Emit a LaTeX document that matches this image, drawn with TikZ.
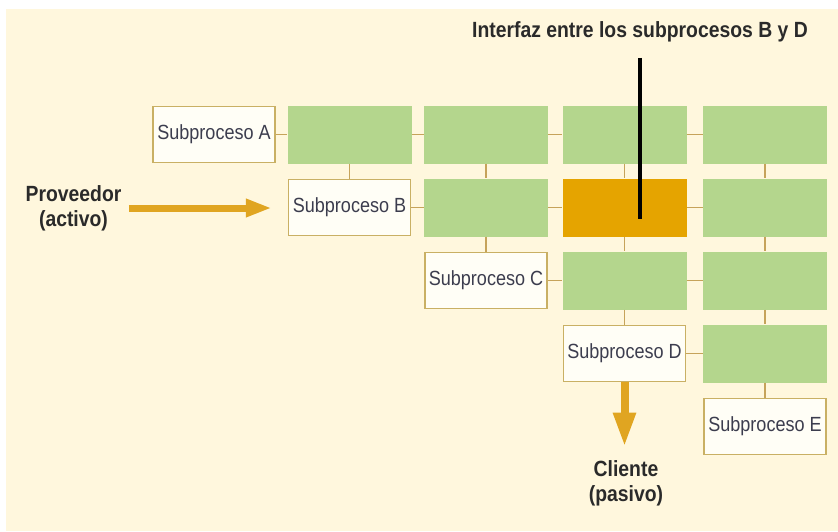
\documentclass[tikz,border=0pt]{standalone}
\usepackage{fontspec}
\setmainfont{Liberation Sans}[FakeStretch=0.88]
\usetikzlibrary{arrows.meta}

\definecolor{cream}{HTML}{FFF7DD}
\definecolor{cellgreen}{HTML}{B4D68D}
\definecolor{cellorange}{HTML}{E5A400}
\definecolor{boxline}{HTML}{C9B064}
\definecolor{boxfill}{HTML}{FFFEF6}
\definecolor{linktan}{HTML}{C6A35A}
\definecolor{floworange}{HTML}{E0A521}
\definecolor{labeltext}{HTML}{3C3D4E}
\definecolor{notetext}{HTML}{2A2A2A}

\begin{document}
\begin{tikzpicture}[x=1pt,y=-1pt,
        subbox/.style={draw=boxline,line width=1.5pt,fill=boxfill,minimum width=122pt,minimum height=56pt,inner sep=0pt,font=\fontsize{20.5}{22}\selectfont,text=labeltext},
        cell/.style={fill=cellgreen,minimum width=124pt,minimum height=58pt,inner sep=0pt},
        hot/.style={cell,fill=cellorange},
        link/.style={draw=linktan,line width=1.3pt},
        flow/.style={draw=floworange,line width=7pt,-{Triangle[length=26pt,width=17pt]}},
        bigflow/.style={flow,line width=8pt,-{Triangle[length=34pt,width=21pt]}},
        note/.style={font=\bfseries\fontsize{22}{25}\selectfont,text=notetext,align=center}]
        \fill[white] (0,0) rectangle (838,531);
        \fill[cream] (6,9) rectangle (838,531);

        % fila 1
        \node[subbox] (A) at (214,134.5) {Subproceso A};
        \node[cell] (g12) at (349.5,134.5) {};
        \node[cell] (g13) at (486,134.5) {};
        \node[cell] (g14) at (624.5,134.5) {};
        \node[cell] (g15) at (765,134.5) {};

        % fila 2
        \node[subbox] (B) at (349.5,207.5) {Subproceso B};
        \node[cell] (g23) at (486,207.5) {};
        \node[hot] (o24) at (624.5,207.5) {};
        \node[cell] (g25) at (765,207.5) {};

        % fila 3
        \node[subbox] (C) at (486,280.5) {Subproceso C};
        \node[cell] (g34) at (624.5,280.5) {};
        \node[cell] (g35) at (765,280.5) {};

        % fila 4
        \node[subbox] (D) at (624.5,353.5) {Subproceso D};
        \node[cell] (g45) at (765,353.5) {};

        % fila 5
        \node[subbox] (E) at (765,426.5) {Subproceso E};

        \draw[link] (A) -- (g12) -- (g13) -- (g14) -- (g15);
        \draw[link] (B) -- (g23) -- (o24) -- (g25);
        \draw[link] (C) -- (g34) -- (g35);
        \draw[link] (D) -- (g45);
        \draw[link] (g12) -- (B);
        \draw[link] (g13) -- (g23) -- (C);
        \draw[link] (g14) -- (o24) -- (g34) -- (D);
        \draw[link] (g15) -- (g25) -- (g35) -- (g45) -- (E);

        \node[note] (prov) at (73.5,208) {Proveedor\\(activo)};
        \node[note] (cli) at (626,483) {Cliente\\(pasivo)};
        \node[note] (title) at (640,32) {Interfaz entre los subprocesos B y D};

        \draw[flow,shorten <=4pt,shorten >=16pt] (prov.east) -- (prov.east -| B.west);
        \draw[bigflow,shorten >=10pt] (D.south) -- (D.south |- cli.north);

        \coordinate (tip) at (640,219);
        \draw[black,line width=4pt] ([yshift=-12pt]title.south) -- (tip);
\end{tikzpicture}
\end{document}
